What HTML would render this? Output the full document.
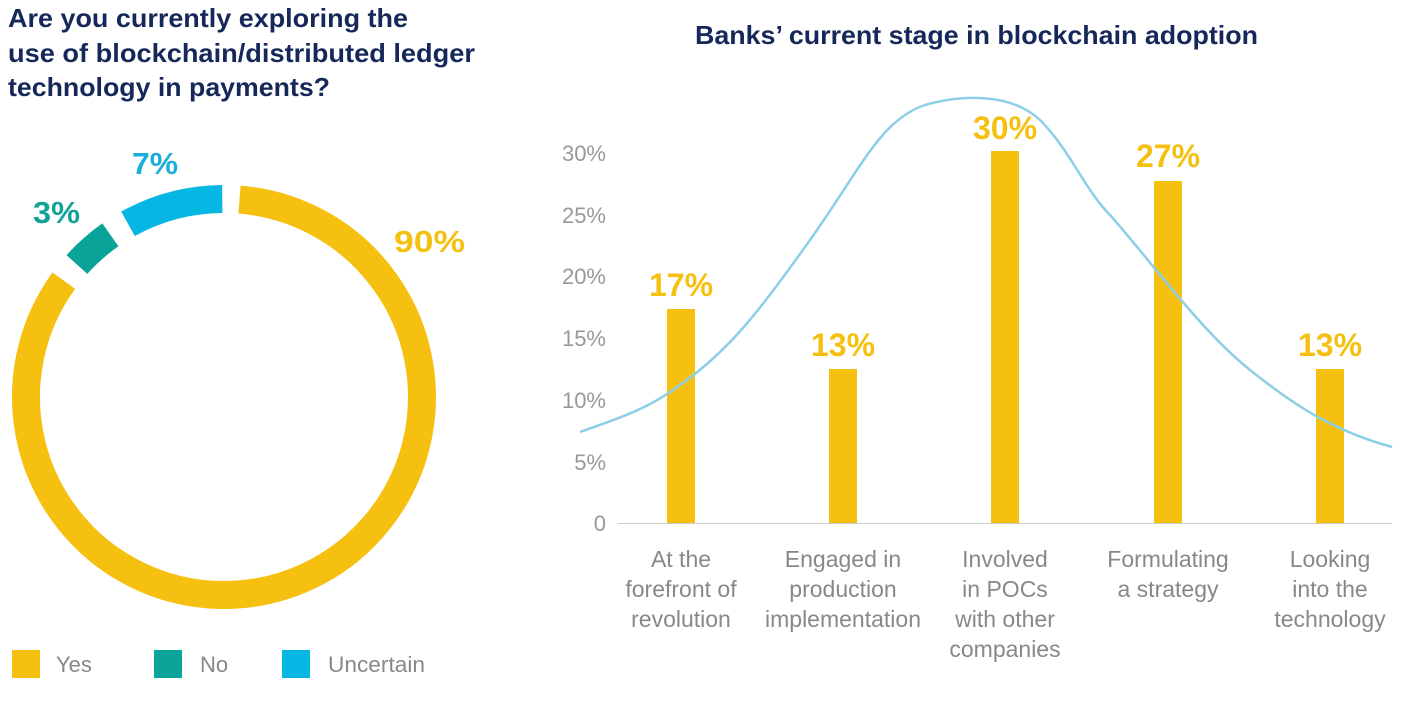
<!DOCTYPE html>
<html><head><meta charset="utf-8"><style>
body{margin:0;width:1426px;height:696px;background:#fff;overflow:hidden;font-family:"Liberation Sans",sans-serif}
</style></head><body>
<svg width="1426" height="696" viewBox="0 0 1426 696" xmlns="http://www.w3.org/2000/svg" font-family="Liberation Sans, sans-serif">
<g fill="#16285a" font-size="26" font-weight="bold">
<text x="8" y="27" textLength="400" lengthAdjust="spacingAndGlyphs">Are you currently exploring the</text>
<text x="8" y="62" textLength="467" lengthAdjust="spacingAndGlyphs">use of blockchain/distributed ledger</text>
<text x="8" y="96" textLength="322" lengthAdjust="spacingAndGlyphs">technology in payments?</text>
<text x="695" y="44" textLength="563" lengthAdjust="spacingAndGlyphs">Banks’ current stage in blockchain adoption</text>
</g>
<g fill="none" stroke-width="28">
<path d="M239.5,199.6 A198,198 0 1 1 63.8,280.6" stroke="#f5c010"/>
<path d="M76.9,264.5 A198,198 0 0 1 110.4,234.8" stroke="#0aa39a"/>
<path d="M128.0,223.8 A198,198 0 0 1 222.3,199" stroke="#05b7e2"/>
</g>
<g font-weight="bold" font-size="31">
<text x="132" y="174" fill="#1aaed8" textLength="46" lengthAdjust="spacingAndGlyphs">7%</text>
<text x="33" y="223" fill="#12a297" textLength="47" lengthAdjust="spacingAndGlyphs">3%</text>
<text x="394" y="252" fill="#f5c010" textLength="71" lengthAdjust="spacingAndGlyphs">90%</text>
</g>
<g font-size="22" fill="#888">
<rect x="12" y="650" width="28" height="28" fill="#f5c010"/><text x="56" y="672">Yes</text>
<rect x="154" y="650" width="28" height="28" fill="#0aa39a"/><text x="200" y="672">No</text>
<rect x="282" y="650" width="28" height="28" fill="#05b7e2"/><text x="328" y="672" textLength="97" lengthAdjust="spacingAndGlyphs">Uncertain</text>
</g>
<g font-size="22" fill="#999" text-anchor="end">
<text x="606" y="161">30%</text><text x="606" y="223">25%</text><text x="606" y="284">20%</text>
<text x="606" y="346">15%</text><text x="606" y="408">10%</text><text x="606" y="470">5%</text><text x="606" y="531">0</text>
</g>
<line x1="618" y1="523.5" x2="1392" y2="523.5" stroke="#ccc" stroke-width="1"/>
<g fill="#f5c010">
<rect x="667" y="309" width="28" height="214"/>
<rect x="829" y="369" width="28" height="154"/>
<rect x="991" y="151" width="28" height="372"/>
<rect x="1154" y="181" width="28" height="342"/>
<rect x="1316" y="369" width="28" height="154"/>
</g>
<path d="M580,432 C620,418 650,408 680,385 C730,350 760,310 810,240 C860,170 880,120 925,105 C960,95 1010,92 1040,120 C1070,150 1085,190 1110,215 C1150,260 1200,330 1250,370 C1290,402 1330,430 1392,447" fill="none" stroke="#8dcfe6" stroke-width="2.5"/>
<g font-weight="bold" font-size="32" fill="#f5c010" text-anchor="middle">
<text x="681" y="296">17%</text><text x="843" y="356">13%</text><text x="1005" y="139">30%</text>
<text x="1168" y="167">27%</text><text x="1330" y="356">13%</text>
</g>
<g font-size="23" fill="#888" text-anchor="middle">
<text x="681" y="567">At the</text><text x="681" y="597">forefront of</text><text x="681" y="627">revolution</text>
<text x="843" y="567">Engaged in</text><text x="843" y="597">production</text><text x="843" y="627">implementation</text>
<text x="1005" y="567">Involved</text><text x="1005" y="597">in POCs</text><text x="1005" y="627">with other</text><text x="1005" y="657">companies</text>
<text x="1168" y="567">Formulating</text><text x="1168" y="597">a strategy</text>
<text x="1330" y="567">Looking</text><text x="1330" y="597">into the</text><text x="1330" y="627">technology</text>
</g>
</svg>
</body></html>
